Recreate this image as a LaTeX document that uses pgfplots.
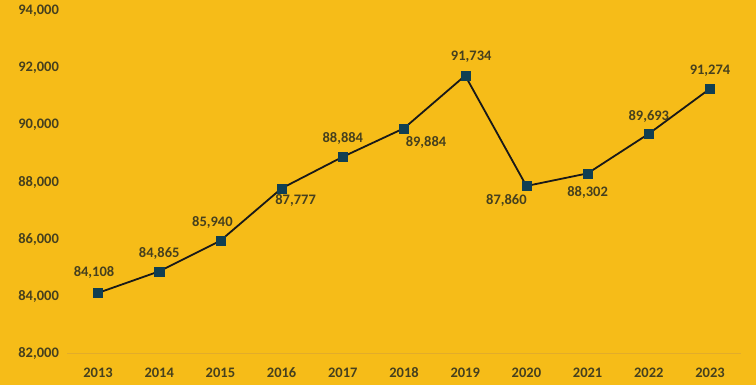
\documentclass[border=0pt]{standalone}
\usepackage{pgfplots}
\pgfplotsset{compat=1.18}
\usepackage{pgfplotstable}
\usepackage{fontspec}
\setmainfont{Carlito}
\definecolor{bg}{HTML}{F6BC18}
\definecolor{txt}{HTML}{46401E}
\definecolor{mk}{HTML}{103F52}
\definecolor{axl}{HTML}{E2AC2A}
\pgfplotstableread{
x y dx dy
0 84108 -4 20
1 84865 0 18
2 85940 -8 18
3 87777 14 -12
4 88884 0 18
5 89884 22 -14
6 91734 6 19
7 87860 -20 -14
8 88302 0 -19
9 89693 0 17
10 91274 0 18
}\datatab
\begin{document}
\begin{tikzpicture}[x=1pt,y=1pt]
\fill[bg] (0,0) rectangle (756,385);
\begin{axis}[
  at={(67.4pt,32pt)}, anchor=south west,
  scale only axis, width=673.2pt, height=342pt,
  xmin=-0.5, xmax=10.5, ymin=82000, ymax=94000,
  xtick=data,
  xticklabels={2013,2014,2015,2016,2017,2018,2019,2020,2021,2022,2023},
  ytick={82000,84000,86000,88000,90000,92000,94000},
  scaled y ticks=false,
  axis line style={draw=none},
  tick style={draw=none},
  /pgf/number format/assume math mode=true,
  /pgf/number format/.cd, 1000 sep={,}, fixed, /pgfplots/.cd,
  ticklabel style={font=\fontsize{14.5}{16}\selectfont\bfseries, text=txt},
  yticklabel style={xshift=-5pt},
  xticklabel style={yshift=-11pt},
  clip=false,
  nodes near coords,
  visualization depends on={\thisrow{dx} \as \ldx},
  visualization depends on={\thisrow{dy} \as \ldy},
  every node near coord/.append style={anchor=center, xshift=\ldx pt, yshift=\ldy pt,
     font=\fontsize{14.5}{16}\selectfont\bfseries, text=txt,
     /pgf/number format/assume math mode=true,
     /pgf/number format/1000 sep={,}, /pgf/number format/fixed},
]
\draw[axl, line width=0.8pt] (axis cs:-0.5,82000) -- (axis cs:10.5,82000);
\addplot[color=black!90, line width=1.8pt, mark=square*,
  mark options={fill=mk, draw=mk, line width=0.4pt}, mark size=4.5pt]
  table[x=x, y=y] {\datatab};
\end{axis}
\end{tikzpicture}
\end{document}
